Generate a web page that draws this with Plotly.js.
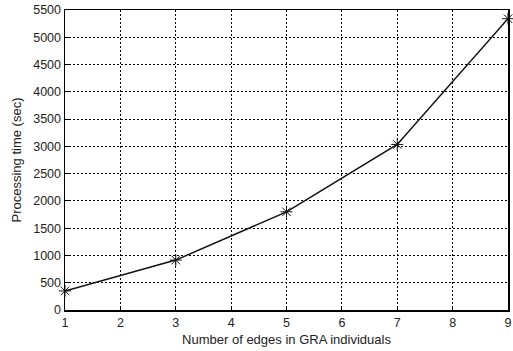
<!DOCTYPE html>
<html>
<head>
<meta charset="utf-8">
<script src="https://cdn.plot.ly/plotly-3.0.1.min.js"></script>
<style>html,body{margin:0;padding:0;background:#fff;}</style>
</head>
<body>
<div id="chart" style="width:513px;height:351px;"></div>
<script>
const edges = [1, 3, 5, 7, 9];
const timeSec = [350, 915, 1800, 3035, 5340];
const xTicks = [1, 2, 3, 4, 5, 6, 7, 8, 9];
const yTicks = [0, 500, 1000, 1500, 2000, 2500, 3000, 3500, 4000, 4500, 5000, 5500];

const trace = {
  x: edges, y: timeSec, type: 'scatter', mode: 'lines+markers',
  line: {color: '#111', width: 1.5},
  marker: {symbol: 'asterisk', size: 10, color: '#111', line: {color: '#111', width: 1}},
  cliponaxis: false
};
const font = {family: 'Liberation Sans, Arial, sans-serif', size: 12.5, color: '#222'};
const titleFont = {family: 'Liberation Sans, Arial, sans-serif', size: 13, color: '#222'};
const layout = {
  width: 513, height: 351,
  margin: {l: 65, r: 5, t: 10, b: 41},
  paper_bgcolor: '#fff', plot_bgcolor: '#fff',
  showlegend: false, font: font,
  xaxis: {
    range: [1, 9], tickvals: xTicks, ticktext: xTicks.map(String),
    showgrid: true, gridcolor: '#000', griddash: '2px,2px', gridwidth: 1,
    showline: true, linecolor: '#000', linewidth: 1.5, mirror: true,
    ticks: 'inside', ticklen: 4, tickcolor: '#000', zeroline: false,
    tickfont: font,
    title: {text: 'Number of edges in GRA individuals', font: titleFont, standoff: 6}
  },
  yaxis: {
    range: [0, 5500], tickvals: yTicks, ticktext: yTicks.map(String),
    showgrid: true, gridcolor: '#000', griddash: '2px,2px', gridwidth: 1,
    showline: true, linecolor: '#000', linewidth: 1.5, mirror: true,
    ticks: 'inside', ticklen: 4, tickcolor: '#000', zeroline: false,
    tickfont: font,
    title: {text: 'Processing time (sec)', font: titleFont, standoff: 8}
  }
};
Plotly.newPlot('chart', [trace], layout, {displayModeBar: false, staticPlot: true});
</script>
</body>
</html>
